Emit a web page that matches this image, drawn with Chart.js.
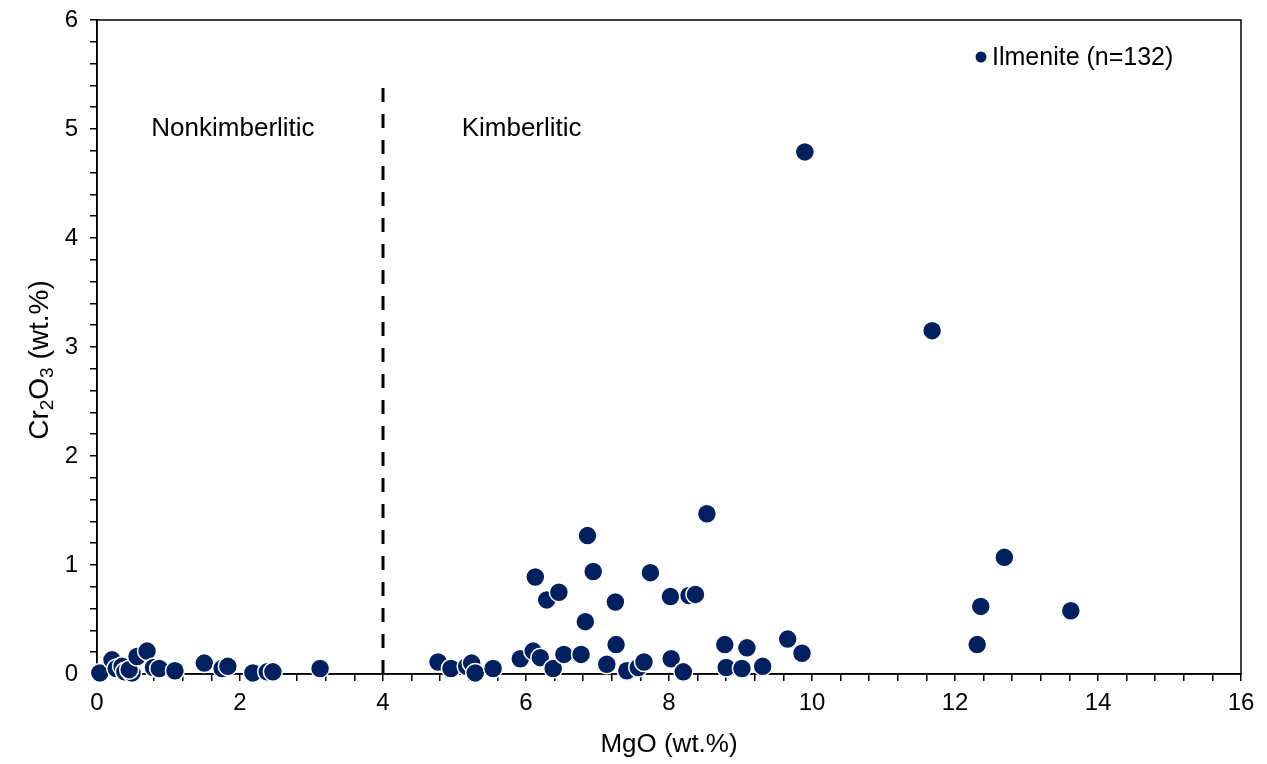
<!DOCTYPE html>
<html>
<head>
<meta charset="utf-8">
<script src="https://cdn.jsdelivr.net/npm/chart.js@4/dist/chart.umd.min.js"></script>
<style>
  body { margin: 0; background: #fff; }
  canvas { display: block; }
</style>
</head>
<body>
<canvas id="chart" width="1267" height="764"></canvas>
<script>
// MgO (wt.%) and Cr2O3 (wt.%)
const mgo = [
  0.04, 0.21, 0.27, 0.35, 0.39, 0.49, 0.45, 0.56, 0.70, 0.79, 0.87, 1.09, 1.50, 1.75, 1.83, 2.18, 2.38, 2.46, 3.12,
  4.77, 4.95, 5.17, 5.24, 5.29, 5.54, 5.92, 6.10, 6.20, 6.38, 6.53, 6.77, 7.13, 7.41, 7.57, 7.65, 8.03, 8.20, 8.80, 9.02, 9.31,
  7.26, 8.78, 9.09, 9.66, 9.86, 6.83, 6.29, 6.46, 7.25, 8.02, 8.28, 8.37, 6.13, 6.94, 7.74, 6.86, 8.53,
  9.90, 11.68, 12.69, 12.36, 13.62, 12.31
];
const cr2o3 = [
  0.01, 0.13, 0.05, 0.07, 0.02, 0.01, 0.04, 0.16, 0.21, 0.06, 0.05, 0.03, 0.10, 0.05, 0.07, 0.01, 0.02, 0.02, 0.05,
  0.11, 0.05, 0.07, 0.10, 0.01, 0.05, 0.14, 0.21, 0.15, 0.05, 0.18, 0.18, 0.09, 0.03, 0.06, 0.11, 0.14, 0.02, 0.06, 0.05, 0.07,
  0.27, 0.27, 0.24, 0.32, 0.19, 0.48, 0.68, 0.75, 0.66, 0.71, 0.72, 0.73, 0.89, 0.94, 0.93, 1.27, 1.47,
  4.79, 3.15, 1.07, 0.62, 0.58, 0.27
];
const seriesLabel = 'Ilmenite (n=132)';
const boundaryX = 4;
const boundaryTop = 5.4;
const fieldLabels = ['Nonkimberlitic', 'Kimberlitic'];
const fieldX = [0.76, 5.1];
const fieldY = 5.0;
const xLabel = 'MgO (wt.%)';
const xMin = 0, xMax = 16, xMajor = 2, xMinor = 0.4;
const yMin = 0, yMax = 6, yMajor = 1, yMinor = 0.2;

const navy = '#002060';
const font = 'Liberation Sans, Arial, sans-serif';

function makeTicks(min, max, step) {
  const out = [];
  const n = Math.round((max - min) / step);
  for (let i = 0; i <= n; i++) out.push({value: Math.round((min + i * step) * 1000) / 1000});
  return out;
}
function isMajor(v, major) {
  const r = v / major;
  return Math.abs(r - Math.round(r)) < 1e-6;
}

const extras = {
  id: 'extras',
  beforeDatasetsDraw(chart) {
    const {ctx, chartArea: a} = chart;
    ctx.save();
    ctx.strokeStyle = '#000';
    ctx.lineWidth = 1.5;
    ctx.strokeRect(a.left, a.top, a.right - a.left, a.bottom - a.top);
    ctx.restore();
  },
  afterDraw(chart) {
    const {ctx, chartArea: a, scales: {x, y}} = chart;
    ctx.save();
    ctx.fillStyle = '#000';
    // field labels
    ctx.font = '26px ' + font;
    ctx.textBaseline = 'middle';
    ctx.textAlign = 'left';
    fieldLabels.forEach((t, i) => ctx.fillText(t, x.getPixelForValue(fieldX[i]), y.getPixelForValue(fieldY)));
    // legend
    ctx.beginPath();
    ctx.arc(981, 57, 5.5, 0, Math.PI * 2);
    ctx.fillStyle = navy;
    ctx.fill();
    ctx.fillStyle = '#000';
    ctx.font = '25px ' + font;
    ctx.fillText(seriesLabel, 992, 58);
    // x title
    ctx.textAlign = 'center';
    ctx.font = '26px ' + font;
    ctx.fillText(xLabel, (a.left + a.right) / 2, 745);
    // y title with subscripts
    ctx.translate(40, 360);
    ctx.rotate(-Math.PI / 2);
    const parts = [['Cr', 0], ['2', 1], ['O', 0], ['3', 1], [' (wt.%)', 0]];
    const big = '28px ' + font, small = '19px ' + font;
    let w = 0;
    parts.forEach(p => { ctx.font = p[1] ? small : big; w += ctx.measureText(p[0]).width; });
    let cx = -w / 2;
    ctx.textAlign = 'left';
    parts.forEach(p => {
      ctx.font = p[1] ? small : big;
      ctx.fillText(p[0], cx, p[1] ? 8 : 0);
      cx += ctx.measureText(p[0]).width;
    });
    ctx.restore();
  }
};

new Chart(document.getElementById('chart'), {
  type: 'scatter',
  data: {
    datasets: [
      {
        label: seriesLabel,
        data: mgo.map((v, i) => ({x: v, y: cr2o3[i]})),
        backgroundColor: navy,
        borderColor: '#fff',
        borderWidth: 1.5,
        pointRadius: 9.5,
        pointHoverRadius: 9.5,
        clip: false
      },
      {
        type: 'line',
        label: 'boundary',
        data: [{x: boundaryX, y: 0}, {x: boundaryX, y: boundaryTop}],
        borderColor: '#000',
        borderWidth: 3,
        borderDash: [14, 12],
        pointRadius: 0,
        fill: false
      }
    ]
  },
  options: {
    responsive: false,
    animation: false,
    layout: {padding: {left: 0, right: 26, top: 20, bottom: 0}},
    plugins: {legend: {display: false}, tooltip: {enabled: false}},
    scales: {
      x: {
        type: 'linear', min: xMin, max: xMax,
        afterBuildTicks: s => { s.ticks = makeTicks(xMin, xMax, xMinor); },
        afterFit: s => { s.height = 90; s.paddingLeft = 0; s.paddingRight = 0; },
        grid: {drawOnChartArea: false, drawTicks: true, tickLength: 7, color: '#000', lineWidth: 1.5},
        border: {color: '#000', width: 1.5},
        ticks: {
          autoSkip: false, maxRotation: 0, padding: 8, color: '#000',
          font: {family: font, size: 24},
          callback: v => isMajor(v, xMajor) ? String(Math.round(v)) : ''
        }
      },
      y: {
        type: 'linear', min: yMin, max: yMax,
        afterBuildTicks: s => { s.ticks = makeTicks(yMin, yMax, yMinor); },
        afterFit: s => { s.width = 97; s.paddingTop = 0; s.paddingBottom = 0; },
        grid: {drawOnChartArea: false, drawTicks: true, tickLength: 7, color: '#000', lineWidth: 1.5},
        border: {color: '#000', width: 1.5},
        ticks: {
          autoSkip: false, padding: 12, color: '#000',
          font: {family: font, size: 24},
          callback: v => isMajor(v, yMajor) ? String(Math.round(v)) : ''
        }
      }
    }
  },
  plugins: [extras]
});
</script>
</body>
</html>
